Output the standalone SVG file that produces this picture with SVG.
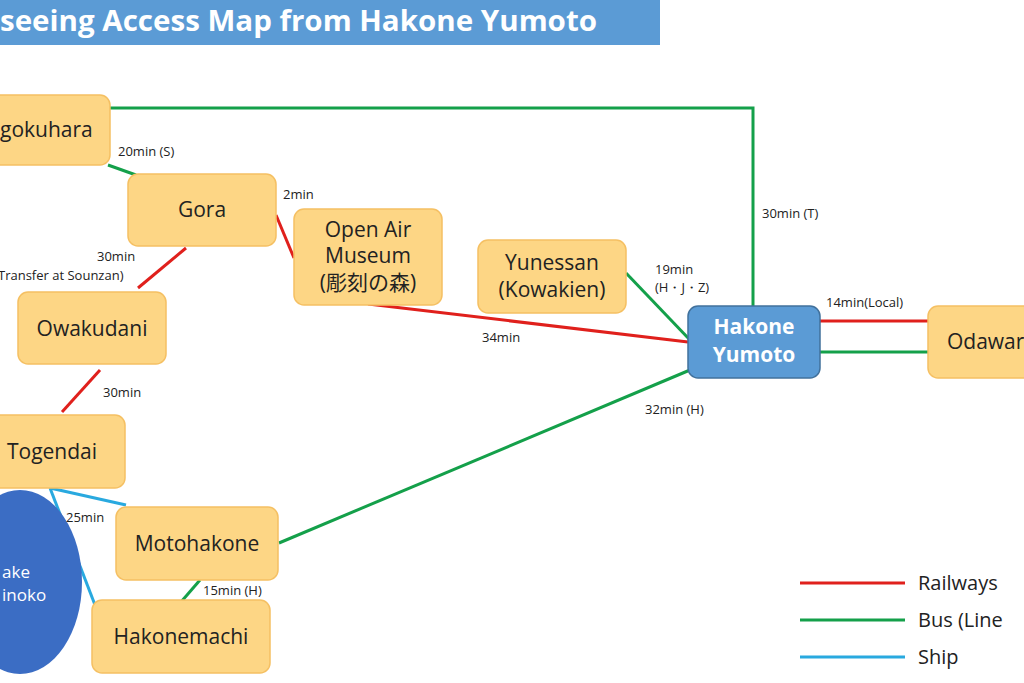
<svg xmlns="http://www.w3.org/2000/svg" width="1024" height="683" viewBox="0 0 1024 683">
<style>
.n{fill:#fdd685;stroke:#f5c063;stroke-width:1.5}
.t{font-family:"Open Sans","Noto Sans","Noto Sans CJK JP",sans-serif;font-size:21px;fill:#222;text-anchor:middle}
.l{font-family:"Open Sans","Noto Sans",sans-serif;font-size:13px;fill:#222}
.r{stroke:#e0201c;stroke-width:3;fill:none}
.g{stroke:#14a04a;stroke-width:3;fill:none}
.b{stroke:#29a9df;stroke-width:3;fill:none}
</style>
<rect width="1024" height="683" fill="#fff"/>
<g id="title"><rect x="-5" y="0" width="665" height="45" fill="#5b9bd5"/>
<text x="0" y="31" textLength="597" lengthAdjust="spacingAndGlyphs" style="font-family:'Open Sans',sans-serif;font-size:28px;font-weight:bold;fill:#fff">seeing Access Map from Hakone Yumoto</text></g>
<g id="connectors">
<polyline class="g" points="110,108 753,108 753,306"/>
<line class="g" x1="108" y1="165" x2="136" y2="175"/>
<line class="r" x1="276" y1="215" x2="294" y2="258"/>
<line class="r" x1="186" y1="248" x2="138" y2="288"/>
<line class="r" x1="100" y1="370" x2="62" y2="412"/>
<line class="r" x1="368" y1="304" x2="688" y2="342"/>
<line class="g" x1="626" y1="273" x2="690" y2="340"/>
<line class="g" x1="690" y1="370" x2="279" y2="543"/>
<line class="r" x1="820" y1="321" x2="930" y2="321"/>
<line class="g" x1="820" y1="352" x2="930" y2="352"/>
<line class="b" x1="50" y1="488" x2="126" y2="505"/>
<line class="b" x1="50" y1="488" x2="95" y2="605"/>
<line class="g" x1="200" y1="580" x2="181" y2="602"/>
</g>
<g id="lake"><ellipse cx="20" cy="582" rx="62" ry="92" fill="#3b6dc4"/>
<text x="2" y="578" class="t" style="font-size:17px;fill:#fff;text-anchor:start">ake</text>
<text x="2" y="601" class="t" style="font-size:17px;fill:#fff;text-anchor:start">inoko</text></g>
<g id="sengokuhara"><rect class="n" x="-20" y="95" width="130" height="70" rx="10"/><text class="t" x="0" y="137" style="text-anchor:start">gokuhara</text></g>
<g id="gora"><rect class="n" x="128" y="174" width="148" height="72" rx="10"/><text class="t" x="202" y="217">Gora</text></g>
<g id="openair"><rect class="n" x="294" y="209" width="148" height="96" rx="10"/><text class="t" x="368" y="237">Open Air</text><text class="t" x="368" y="263">Museum</text><text class="t" x="368" y="290">(彫刻の森)</text></g>
<g id="yunessan"><rect class="n" x="478" y="240" width="148" height="73" rx="10"/><text class="t" x="552" y="270">Yunessan</text><text class="t" x="552" y="297">(Kowakien)</text></g>
<g id="yumoto"><rect x="688" y="306" width="132" height="72" rx="10" fill="#5b9bd5" stroke="#41719c" stroke-width="1.5"/><text class="t" x="754" y="334" style="fill:#fff;font-weight:bold">Hakone</text><text class="t" x="754" y="362" style="fill:#fff;font-weight:bold">Yumoto</text></g>
<g id="odawara"><rect class="n" x="928" y="306" width="110" height="72" rx="10"/><text class="t" x="947" y="349" style="text-anchor:start">Odawar</text></g>
<g id="owakudani"><rect class="n" x="18" y="292" width="148" height="72" rx="10"/><text class="t" x="92" y="336">Owakudani</text></g>
<g id="togendai"><rect class="n" x="-20" y="415" width="145" height="73" rx="10"/><text class="t" x="52" y="459">Togendai</text></g>
<g id="motohakone"><rect class="n" x="116" y="507" width="162" height="73" rx="10"/><text class="t" x="197" y="551">Motohakone</text></g>
<g id="hakonemachi"><rect class="n" x="92" y="600" width="178" height="73" rx="10"/><text class="t" x="181" y="644">Hakonemachi</text></g>
<g id="labels">
<text class="l" x="118" y="156">20min (S)</text>
<text class="l" x="283" y="199">2min</text>
<text class="l" x="97" y="261">30min</text>
<text class="l" x="-2" y="280">Transfer at Sounzan)</text>
<text class="l" x="103" y="397">30min</text>
<text class="l" x="482" y="342">34min</text>
<text class="l" x="655" y="274">19min</text>
<text class="l" x="655" y="292">(H・J・Z)</text>
<text class="l" x="762" y="218">30min (T)</text>
<text class="l" x="826" y="307">14min(Local)</text>
<text class="l" x="645" y="414">32min (H)</text>
<text class="l" x="66" y="522">25min</text>
<text class="l" x="203" y="595">15min (H)</text>
</g>
<g id="legend">
<line class="r" x1="800" y1="583" x2="905" y2="583"/><text class="t" x="918" y="590" style="text-anchor:start;font-size:20px">Railways</text>
<line class="g" x1="800" y1="620" x2="905" y2="620"/><text class="t" x="918" y="627" style="text-anchor:start;font-size:20px">Bus (Line</text>
<line class="b" x1="800" y1="657" x2="905" y2="657"/><text class="t" x="918" y="664" style="text-anchor:start;font-size:20px">Ship</text>
</g>
</svg>
